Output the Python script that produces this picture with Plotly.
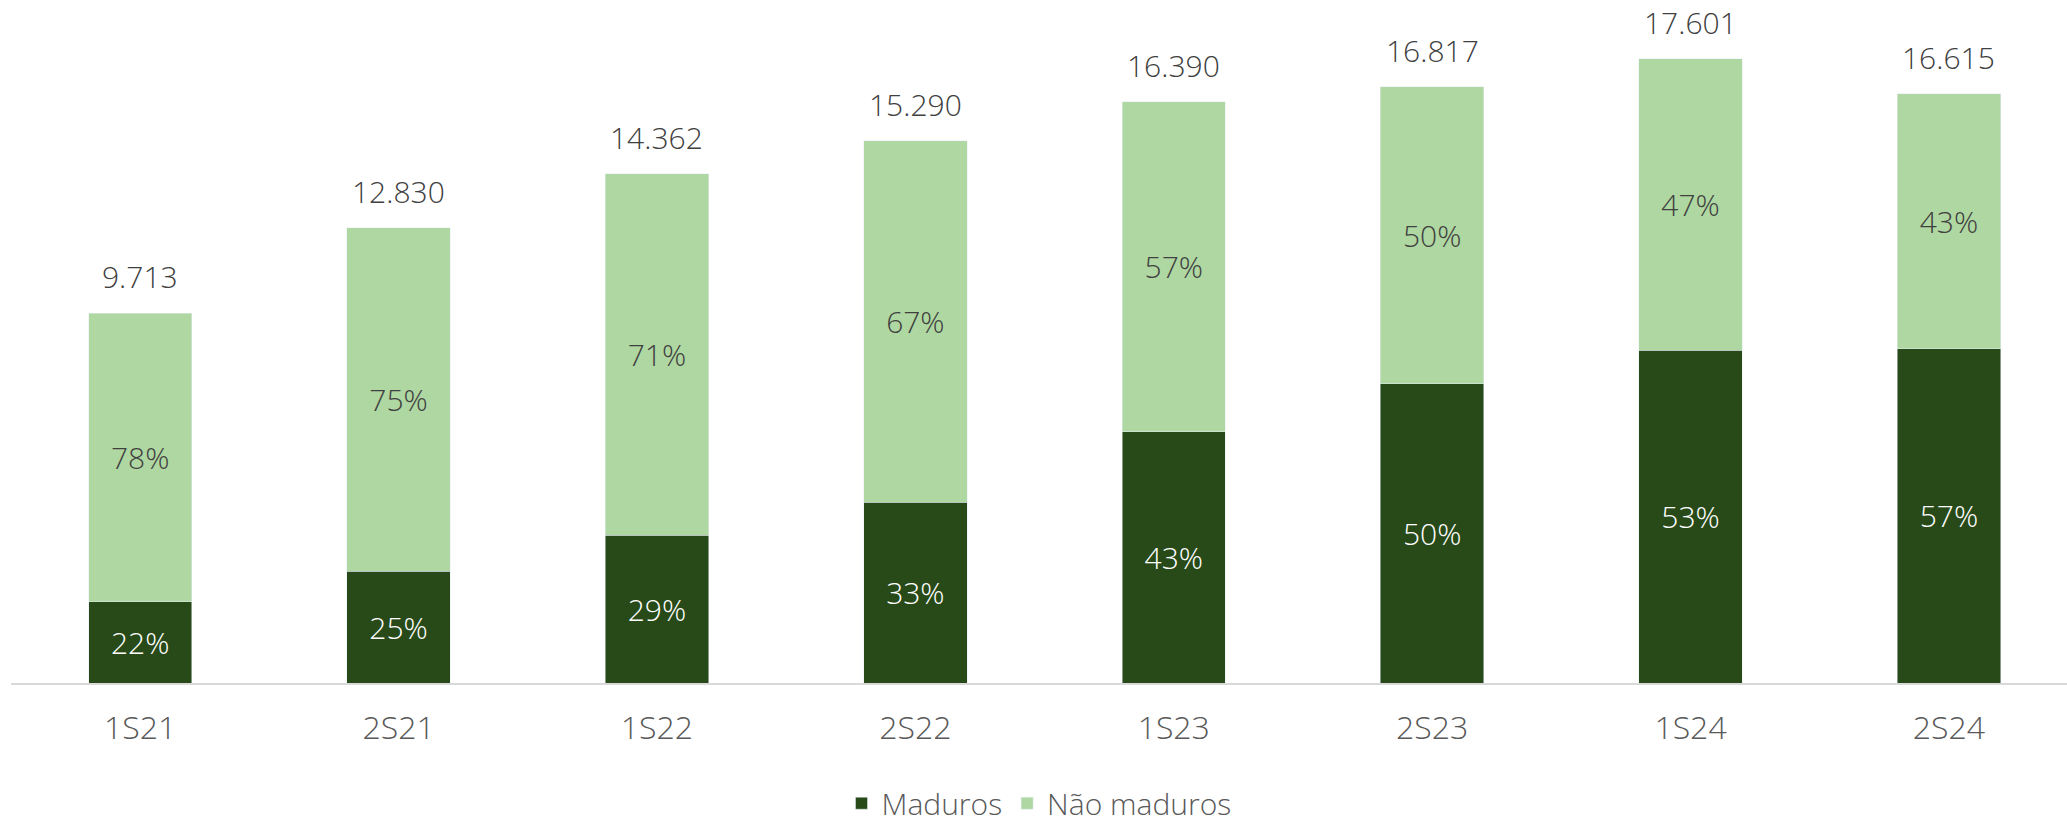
import plotly.graph_objects as go

categories = ["1S21", "2S21", "1S22", "2S22", "1S23", "2S23", "1S24", "2S24"]
maduros = [2284, 3150, 4165, 5100, 7090, 8440, 9380, 9420]
nao_maduros = [8147, 9680, 10197, 10190, 9300, 8377, 8221, 7195]
totais = [9713, 12830, 14362, 15290, 16390, 16817, 17601, 16615]
pct_maduros = ["22%", "25%", "29%", "33%", "43%", "50%", "53%", "57%"]
pct_nao_maduros = ["78%", "75%", "71%", "67%", "57%", "50%", "47%", "43%"]

DARK = "#284A19"
LIGHT = "#AFD7A1"
FONT = "Open Sans"

fig = go.Figure()
fig.add_trace(go.Bar(
    name="Maduros", x=categories, y=maduros, marker_color=DARK,
    text=pct_maduros, textposition="inside", insidetextanchor="middle",
    textfont=dict(color="#FFFFFF", size=30, family=FONT, weight=300),
    hoverinfo="skip",
))
fig.add_trace(go.Bar(
    name="Não maduros", x=categories, y=nao_maduros, marker_color=LIGHT,
    text=pct_nao_maduros, textposition="inside", insidetextanchor="middle",
    textfont=dict(color="#404040", size=30, family=FONT, weight=300),
    hoverinfo="skip",
))

stack_tops = [a + b for a, b in zip(maduros, nao_maduros)]
for cat, top, tot in zip(categories, stack_tops, totais):
    fig.add_annotation(
        x=cat, y=top, text=f"{tot:,}".replace(",", "."),
        showarrow=False, yanchor="bottom", yshift=14,
        font=dict(color="#404040", size=30, family=FONT, weight=300),
    )

fig.update_layout(
    width=2067, height=828,
    barmode="stack", bargap=0.6,
    plot_bgcolor="white", paper_bgcolor="white",
    margin=dict(l=11, r=0, t=0, b=145, autoexpand=False),
    uniformtext=dict(mode="show", minsize=10),
    showlegend=True,
    legend=dict(
        orientation="h", x=0.5, xanchor="center", y=-0.176, yanchor="middle",
        font=dict(color="#595959", size=30, family=FONT, weight=300),
        traceorder="normal",
    ),
    font=dict(family=FONT),
)
fig.update_xaxes(
    range=[-0.5, 7.457], showline=True, linecolor="#D9D9D9", linewidth=2,
    ticks="", showgrid=False,
    tickfont=dict(color="#595959", size=32, family=FONT, weight=300),
    ticklabelstandoff=16,
)
fig.update_yaxes(range=[0, 19256], visible=False, showgrid=False)

fig.write_html("out.html")
